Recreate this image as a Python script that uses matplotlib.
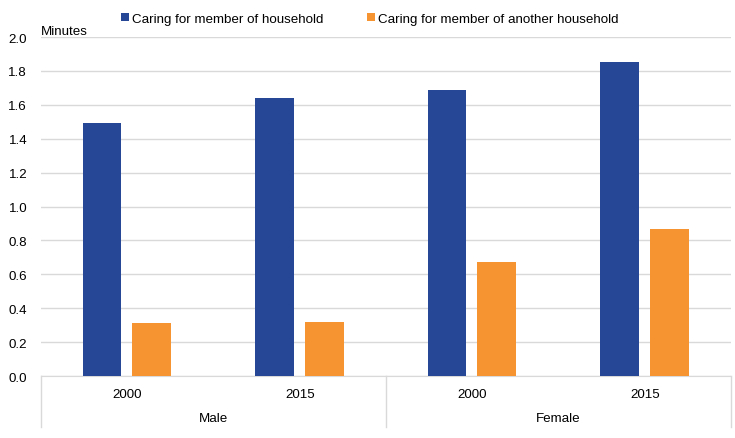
import numpy as np
import matplotlib
matplotlib.use("Agg")
import matplotlib.pyplot as plt

plt.rcParams["font.family"] = ["Liberation Sans", "DejaVu Sans"]
plt.rcParams["font.size"] = 9.6

years = ["2000", "2015", "2000", "2015"]
sexes = ["Male", "Female"]
series = ["Caring for member of household", "Caring for member of another household"]
own_hh = [1.49, 1.64, 1.69, 1.85]
other_hh = [0.31, 0.32, 0.67, 0.87]
colors = ["#264796", "#f59431"]

fig = plt.figure(figsize=(7.35, 4.39), dpi=100)
ax = fig.add_axes([0.0558, 0.1412, 0.9388, 0.7722])

x = np.arange(len(years))
w = 0.225
ax.bar(x - 0.146, own_hh, w, color=colors[0], label=series[0], zorder=3)
ax.bar(x + 0.142, other_hh, w, color=colors[1], label=series[1], zorder=3)

ax.set_xlim(-0.5, len(years) - 0.5)
ax.set_ylim(0, 2.0)
ax.set_yticks(np.arange(0, 2.01, 0.2))
ax.set_yticklabels([f"{v:.1f}" for v in np.arange(0, 2.01, 0.2)])
ax.yaxis.grid(True, color="#d9d9d9", lw=1, zorder=0)
ax.tick_params(axis="y", length=0, pad=10)
ax.tick_params(axis="x", length=0)
ax.set_xticks([])
for s in ["top", "right", "left"]:
    ax.spines[s].set_visible(False)
ax.spines["bottom"].set_color("#d9d9d9")

# category labels below axis
for i, yr in enumerate(years):
    ax.text(i, -0.052, yr, transform=ax.get_xaxis_transform(), ha="center", va="center")
for j, sx in enumerate(sexes):
    ax.text(2 * j + 0.5, -0.125, sx, transform=ax.get_xaxis_transform(), ha="center", va="center")
for xb in [-0.5, 1.5, 3.5]:
    ax.plot([xb, xb], [0, -0.15], transform=ax.get_xaxis_transform(), color="#d9d9d9",
            lw=1, clip_on=False)

ax.text(0, 1.0, "Minutes", transform=ax.transAxes, ha="left", va="bottom")

fig.legend(*ax.get_legend_handles_labels(), loc="center", bbox_to_anchor=(0.503, 0.955),
           ncol=2, frameon=False, handlelength=0.6, handleheight=0.6,
           handletextpad=0.2, columnspacing=3.3)

fig.savefig("out.png", dpi=100)
